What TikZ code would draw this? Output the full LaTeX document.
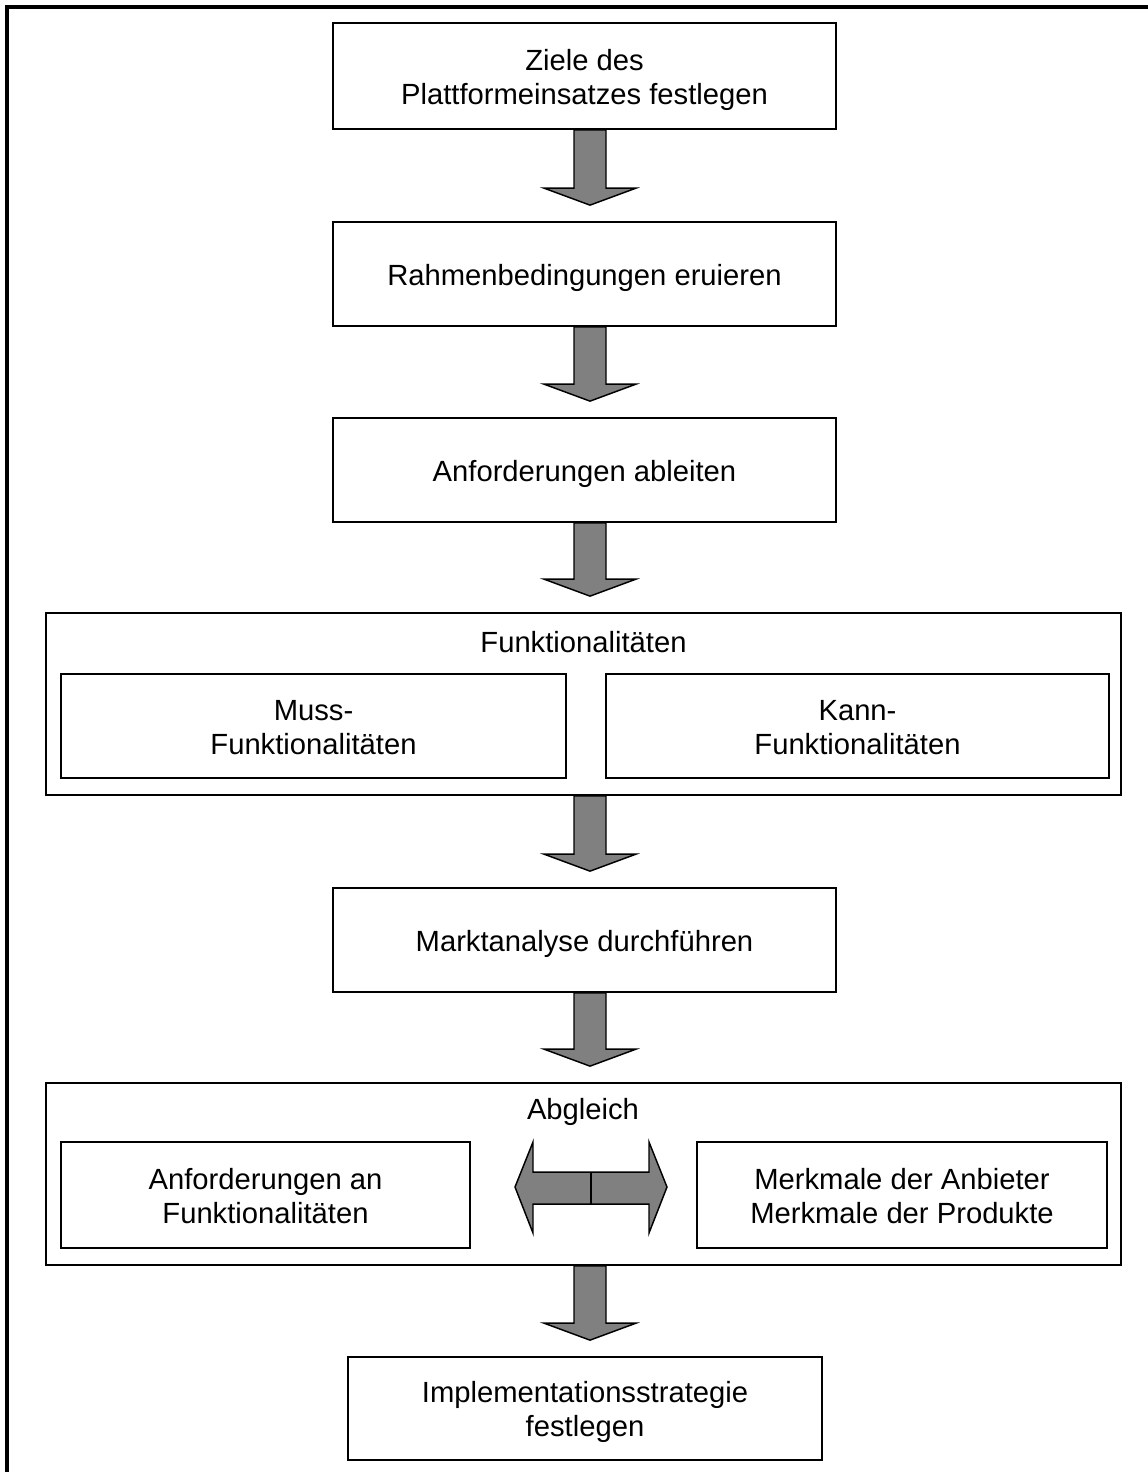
\documentclass[tikz,border=0pt]{standalone}
\usepackage{fontspec}
\setmainfont{Liberation Sans}
\usetikzlibrary{calc}
\definecolor{arrowgray}{RGB}{128,128,128}
% struts that give every box line the same height and depth
\newcommand\boxtopstrut{\rule{0pt}{22pt}}
\newcommand\boxbotstrut{\rule[-4.8pt]{0pt}{0pt}}
\begin{document}
\begin{tikzpicture}[x=0.75pt,y=-0.75pt,
  txt/.style={font=\fontsize{21.9}{25.5}\selectfont, align=center},
  box/.style={txt, draw, line width=1.3pt, fill=white, inner sep=0pt},
  sz/.style 2 args={minimum width=#1*0.75pt, minimum height=#2*0.75pt},
  label/.style={txt, inner sep=0pt},
  barrow/.style={draw, fill=arrowgray, line width=1.1pt, line join=miter}]
% page and frame
\useasboundingbox (0,0) rectangle (1148,1472);
\draw[line width=2.4pt] (7,1480) -- (7,7) -- (1160,7);
\coordinate (ax) at (590,0);

% single block arrow from the bottom of #1 to the top of #2
\newcommand\flowarrow[2]{%
  \draw[barrow] ($(#1.south -| ax)+(-16,0)$) -- ($(#2.north -| ax)+(-16,-33)$)
    -- ($(#2.north -| ax)+(-46,-33)$) -- ($(#2.north -| ax)+(0,-16)$)
    -- ($(#2.north -| ax)+(46,-33)$) -- ($(#2.north -| ax)+(16,-33)$)
    -- ($(#1.south -| ax)+(16,0)$) -- cycle;}

% process steps
\node[box, sz={503}{106}] (ziele) at (584.5,76) {\boxtopstrut Ziele des\\Plattformeinsatzes festlegen\boxbotstrut};
\node[box, sz={503}{104}] (rahmen) at (584.5,274) {\boxtopstrut Rahmenbedingungen eruieren\boxbotstrut};
\node[box, sz={503}{104}] (anf) at (584.5,470) {\boxtopstrut Anforderungen ableiten\boxbotstrut};

\node[box, sz={1075}{182}] (funk) at (583.5,704) {};
\node[label] (funkt) at (583.5,642) {Funktionalitäten};
\node[box, sz={505}{104}] (muss) at (313.5,726) {\boxtopstrut Muss-\\Funktionalitäten\boxbotstrut};
\node[box, sz={503}{104}] (kann) at (857.5,726) {\boxtopstrut Kann-\\Funktionalitäten\boxbotstrut};

\node[box, sz={503}{104}] (markt) at (584.5,940) {\boxtopstrut Marktanalyse durchführen\boxbotstrut};

\node[box, sz={1075}{182}] (abg) at (583.5,1174) {};
\node[label] (abgt) at (583,1112) {Abgleich};
\node[box, sz={409}{106}] (anfl) at (265.5,1195) {\boxtopstrut Anforderungen an\\Funktionalitäten\boxbotstrut};
\node[box, sz={410}{106}] (merk) at (902,1195) {\boxtopstrut Merkmale der Anbieter\\Merkmale der Produkte\boxbotstrut};

\node[box, sz={474}{103}] (impl) at (585,1408.5) {\boxtopstrut Implementationsstrategie\\festlegen\boxbotstrut};

% flow arrows
\flowarrow{ziele}{rahmen}
\flowarrow{rahmen}{anf}
\flowarrow{anf}{funk}
\flowarrow{funk}{markt}
\flowarrow{markt}{abg}
\flowarrow{abg}{impl}

% double arrow between requirements and features
\draw[barrow] (515,1187) -- (533,1142) -- (533,1172) -- (649,1172) -- (649,1142)
  -- (667,1187) -- (649,1233) -- (649,1204) -- (533,1204) -- (533,1233) -- cycle;
\draw[line width=1.1pt] (591,1172) -- (591,1204);
\end{tikzpicture}
\end{document}
